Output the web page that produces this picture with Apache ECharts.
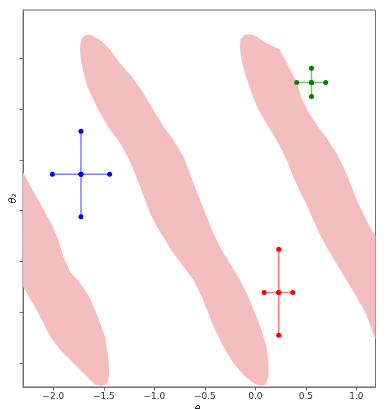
<!DOCTYPE html>
<html><head><meta charset="utf-8">
<script src="https://cdn.jsdelivr.net/npm/echarts@6/dist/echarts.min.js"></script>
<style>html,body{margin:0;padding:0;background:#fff}#c{width:389px;height:409px}</style>
</head><body><div id="c"></div>
<script>
const xTicks = [-2.0, -1.5, -1.0, -0.5, 0.0, 0.5, 1.0];
const yTicks = [-1.5, -1.0, -0.5, 0.0, 0.5, 1.0, 1.5];

// Pink region outlines (theta1, theta2)
const bandLeft = [
  [-2.3,0.378],[-2.198,0.192],[-2.099,0.018],[-2.016,-0.136],[-1.951,-0.283],[-1.901,-0.446],
  [-1.835,-0.594],[-1.736,-0.708],[-1.637,-0.855],[-1.555,-1.052],[-1.489,-1.231],[-1.456,-1.428],
  [-1.446,-1.608],[-1.466,-1.696],[-1.522,-1.72],[-1.588,-1.706],[-1.670,-1.624],[-1.769,-1.526],
  [-1.868,-1.428],[-1.934,-1.362],[-2.033,-1.231],[-2.115,-1.068],[-2.198,-0.921],[-2.264,-0.806],
  [-2.3,-0.747]
];
const bandMiddle = [
  [-1.637,1.726],[-1.588,1.706],[-1.522,1.664],[-1.440,1.582],[-1.341,1.451],[-1.225,1.320],
  [-1.110,1.157],[-1.011,0.993],[-0.912,0.829],[-0.813,0.699],[-0.714,0.535],[-0.648,0.371],
  [-0.599,0.241],[-0.549,0.110],[-0.483,-0.054],[-0.417,-0.217],[-0.335,-0.381],[-0.253,-0.512],
  [-0.154,-0.675],[-0.071,-0.839],[-0.005,-1.002],[0.061,-1.166],[0.110,-1.330],[0.130,-1.493],
  [0.130,-1.624],[0.104,-1.706],[0.044,-1.72],[-0.022,-1.689],[-0.121,-1.608],[-0.220,-1.493],
  [-0.318,-1.330],[-0.401,-1.166],[-0.467,-1.002],[-0.533,-0.839],[-0.615,-0.675],[-0.714,-0.544],
  [-0.813,-0.414],[-0.895,-0.283],[-0.978,-0.152],[-1.044,-0.021],[-1.093,0.110],[-1.143,0.241],
  [-1.192,0.371],[-1.258,0.519],[-1.341,0.666],[-1.440,0.797],[-1.538,0.960],[-1.604,1.091],
  [-1.664,1.222],[-1.703,1.369],[-1.730,1.500],[-1.736,1.614],[-1.720,1.686],[-1.687,1.722]
];
const bandRight = [
  [-0.147,1.680],[-0.154,1.598],[-0.137,1.484],[-0.094,1.320],[-0.038,1.157],[0.028,0.993],
  [0.127,0.829],[0.226,0.666],[0.308,0.502],[0.374,0.339],[0.440,0.192],[0.506,0.061],
  [0.572,-0.087],[0.638,-0.234],[0.720,-0.381],[0.819,-0.545],[0.918,-0.708],[1.017,-0.872],
  [1.099,-1.019],[1.165,-1.199],[1.19,-1.264],[1.19,-0.253],[1.132,-0.152],[1.083,-0.054],
  [1.017,0.077],[0.951,0.241],[0.885,0.404],[0.802,0.568],[0.704,0.715],[0.605,0.846],
  [0.522,0.977],[0.456,1.107],[0.413,1.255],[0.328,1.418],[0.242,1.582],[0.094,1.654],
  [0.011,1.713],[-0.055,1.735],[-0.104,1.726]
];

// Crosses (centre with +/- extents)
const blueH = [[-2.010,0.358],[-1.726,0.358],[-1.442,0.358]];
const blueV = [[-1.726,0.780],[-1.726,0.358],[-1.726,-0.060]];
const redH = [[0.087,-0.803],[0.232,-0.803],[0.371,-0.803]];
const redV = [[0.232,-0.378],[0.232,-0.803],[0.232,-1.222]];
const greenH = [[0.410,1.258],[0.556,1.258],[0.697,1.258]];
const greenV = [[0.556,1.398],[0.556,1.258],[0.556,1.120]];

const PINK = '#f4bebf';
const AXC = '#6f6f6f';

function bandSeries(pts) {
  return {
    type: 'custom', data: pts, clip: true, silent: true, z: 1,
    renderItem: function (params, api) {
      if (params.dataIndex !== 0) return null;
      return { type: 'polygon', shape: { points: pts.map(p => api.coord(p)) }, style: { fill: PINK } };
    }
  };
}
function crossSeries(pts, color) {
  return {
    type: 'line', data: pts, z: 5, silent: true, animation: false,
    symbol: 'circle', symbolSize: 5, showSymbol: true,
    lineStyle: { color: color, width: 1.5, opacity: 0.5 },
    itemStyle: { color: color }
  };
}

const chart = echarts.init(document.getElementById('c'), null, { renderer: 'canvas' });
chart.setOption({
  animation: false,
  backgroundColor: '#fff',
  grid: { left: 23, right: 13.5, top: 10, bottom: 22, outerBoundsMode: 'none', containLabel: false,
    show: true, borderColor: AXC, borderWidth: 1, backgroundColor: 'transparent' },
  xAxis: {
    type: 'value', min: -2.3, max: 1.19,
    name: 'θ₁', nameLocation: 'middle', nameGap: 14,
    nameTextStyle: { fontFamily: 'DejaVu Sans', fontSize: 10, fontStyle: 'italic', color: '#222' },
    axisLine: { show: true, onZero: false, lineStyle: { color: AXC } },
    axisTick: { show: true, inside: false, length: 3.5, lineStyle: { color: AXC }, customValues: xTicks },
    axisLabel: { show: true, customValues: xTicks, margin: 5, fontFamily: 'DejaVu Sans', fontSize: 9, color: '#333',
      formatter: v => (v < 0 ? '\u2212' : '') + Math.abs(v).toFixed(1) },
    splitLine: { show: false }
  },
  yAxis: {
    type: 'value', min: -1.73, max: 1.97,
    name: 'θ₂', nameLocation: 'middle', nameGap: 5, nameRotate: 90,
    nameTextStyle: { fontFamily: 'DejaVu Sans', fontSize: 10, fontStyle: 'italic', color: '#222' },
    axisLine: { show: true, onZero: false, lineStyle: { color: AXC } },
    axisTick: { show: true, inside: false, length: 3.5, lineStyle: { color: AXC }, customValues: yTicks },
    axisLabel: { show: false },
    splitLine: { show: false }
  },
  series: [
    bandSeries(bandLeft), bandSeries(bandMiddle), bandSeries(bandRight),
    crossSeries(blueH, '#0000ff'), crossSeries(blueV, '#0000ff'),
    crossSeries(redH, '#ff0000'), crossSeries(redV, '#ff0000'),
    crossSeries(greenH, '#008000'), crossSeries(greenV, '#008000')
  ]
});
</script></body></html>
